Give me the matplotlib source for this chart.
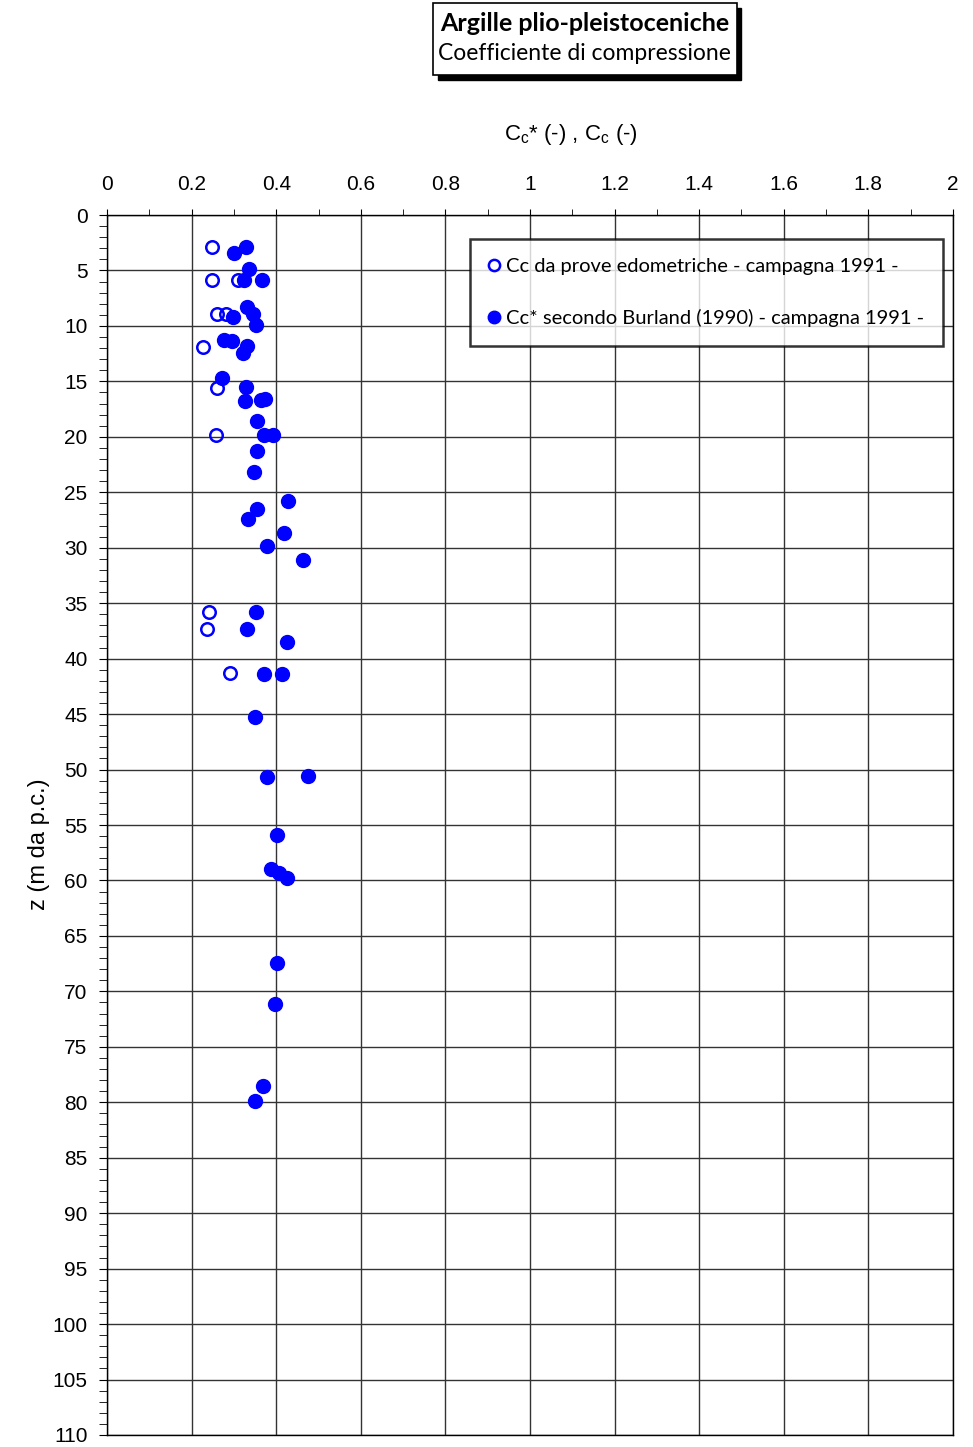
import numpy as np
import matplotlib.pyplot as plt
from matplotlib.ticker import MultipleLocator, FuncFormatter
from matplotlib.patches import Rectangle

# Cc from oedometer tests - 1991 campaign
cc_edo = [0.248, 0.249, 0.310, 0.259, 0.281, 0.228, 0.259, 0.258, 0.241, 0.236, 0.291]
z_edo = [2.9, 5.9, 5.9, 8.9, 8.9, 11.9, 15.6, 19.8, 35.8, 37.3, 41.3]

# Cc* after Burland (1990) - 1991 campaign
cc_burl = [0.329, 0.301, 0.335, 0.325, 0.367, 0.330, 0.344, 0.299, 0.352, 0.277,
           0.295, 0.330, 0.321, 0.271, 0.328, 0.326, 0.364, 0.374, 0.355, 0.370,
           0.393, 0.354, 0.348, 0.427, 0.355, 0.333, 0.419, 0.378, 0.463, 0.352,
           0.330, 0.425, 0.372, 0.414, 0.350, 0.378, 0.476, 0.402, 0.388, 0.406,
           0.426, 0.403, 0.398, 0.369, 0.349]
z_burl = [2.9, 3.4, 4.9, 5.9, 5.9, 8.3, 8.9, 9.2, 9.9, 11.3,
          11.4, 11.8, 12.4, 14.7, 15.5, 16.8, 16.7, 16.6, 18.6, 19.8,
          19.8, 21.3, 23.2, 25.8, 26.5, 27.4, 28.7, 29.8, 31.1, 35.8,
          37.3, 38.5, 41.4, 41.4, 45.3, 50.7, 50.6, 55.9, 59.0, 59.3,
          59.8, 67.4, 71.1, 78.5, 79.9]

num_font = 'Liberation Sans'
txt_font = 'Lato'

fig = plt.figure(figsize=(9.73, 14.47), dpi=100)
ax = fig.add_axes([0.110, 0.0083, 0.8694, 0.8431])

ax.plot(cc_edo, z_edo, 'o', ms=9, mfc='none', mec='#0000ff', mew=1.8,
        label='Cc da prove edometriche - campagna 1991 -', zorder=3)
ax.plot(cc_burl, z_burl, 'o', ms=10, mfc='#0000ff', mec='#0000ff',
        label='Cc* secondo Burland (1990) - campagna 1991 -', zorder=4)

ax.set_xlim(0, 2)
ax.set_ylim(110, 0)
ax.xaxis.set_major_locator(MultipleLocator(0.2))
ax.xaxis.set_minor_locator(MultipleLocator(0.1))
ax.yaxis.set_major_locator(MultipleLocator(5))
ax.yaxis.set_minor_locator(MultipleLocator(1))
ax.xaxis.set_major_formatter(FuncFormatter(lambda v, p: '%g' % round(v, 1)))
ax.xaxis.tick_top()
ax.tick_params(axis='both', which='both', direction='out', color='black')
ax.tick_params(axis='x', which='major', length=4, pad=11, labelsize=15)
ax.tick_params(axis='x', which='minor', length=4)
ax.tick_params(axis='y', which='major', length=6, pad=8, labelsize=15)
ax.tick_params(axis='y', which='minor', length=6)
for lab in ax.get_xticklabels() + ax.get_yticklabels():
    lab.set_family(num_font)
ax.grid(True, which='major', color='#333333', lw=1.0)
for s in ax.spines.values():
    s.set_color('black')
    s.set_linewidth(1.0)

ax.set_ylabel('z (m da p.c.)', family=num_font, fontsize=17)
ax.yaxis.set_label_coords(-0.068, 0.484)
fig.text(0.587, 0.907, r'C$_\mathregular{c}$* (-) , C$_\mathregular{c}$ (-)',
         family=num_font, fontsize=16, ha='center', va='center')

leg = ax.legend(loc='upper right', bbox_to_anchor=(0.988, 0.9805), prop={'family': txt_font, 'size': 14.5},
                frameon=True, fancybox=False, edgecolor='black', handlelength=0.5,
                handletextpad=0.3, borderpad=0.95, borderaxespad=0.0, labelspacing=1.7,
                markerscale=0.9)
leg.get_frame().set_linewidth(1.8)

# title box with drop shadow
bx, by, bw, bh = 0.445, 0.948, 0.312, 0.050
fig.patches.append(Rectangle((bx + 0.005, by - 0.0035), bw, bh, transform=fig.transFigure,
                             facecolor='black', edgecolor='black', zorder=1))
fig.patches.append(Rectangle((bx, by), bw, bh, transform=fig.transFigure,
                             facecolor='white', edgecolor='black', lw=1.2, zorder=2))
fig.text(bx + bw / 2, 0.984, 'Argille plio-pleistoceniche', family=txt_font,
         fontsize=18, fontweight='bold', ha='center', va='center', zorder=3)
fig.text(bx + bw / 2, 0.963, 'Coefficiente di compressione', family=txt_font,
         fontsize=16.5, ha='center', va='center', zorder=3)

fig.savefig('out.png', dpi=100)
